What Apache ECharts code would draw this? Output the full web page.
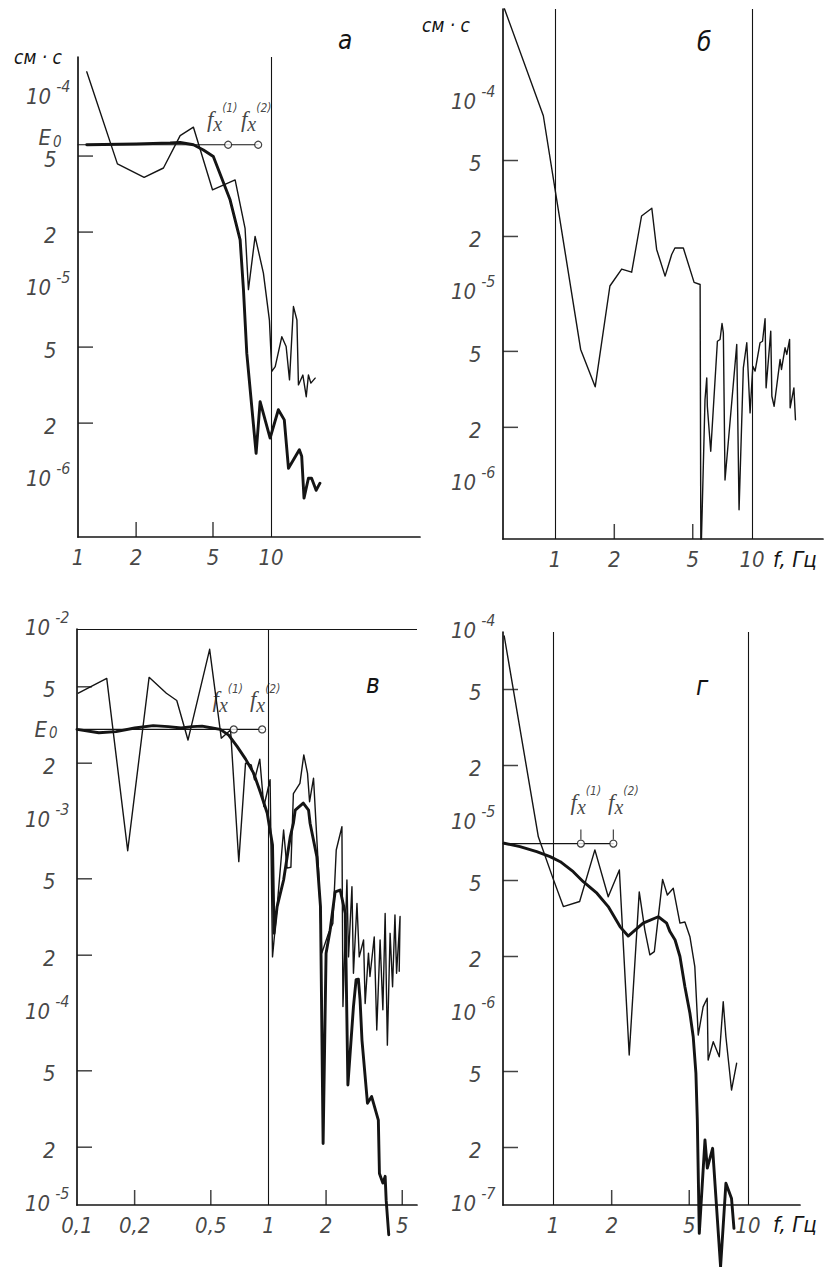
<!DOCTYPE html>
<html><head><meta charset="utf-8">
<script src="https://cdn.jsdelivr.net/npm/echarts@6.0.0/dist/echarts.min.js"></script>
<style>html,body{margin:0;padding:0;background:#fff}#c{width:835px;height:1267px}</style>
</head><body><div id="c"></div>
<script>
// ---------------- Panel а ----------------
const aThinF = [1.11, 1.60, 2.20, 2.77, 3.38, 3.96, 4.97, 6.51, 7.33, 7.63, 8.26, 9.12, 9.80, 10.08, 10.5, 11.36, 11.96, 12.45, 13.05, 13.6, 13.85, 14.6, 15.2, 15.6, 16.06, 16.9];
const aThinE = [1.38e-4, 4.55e-5, 3.87e-5, 4.33e-5, 6.4e-5, 7.08e-5, 3.33e-5, 3.75e-5, 2.09e-5, 1.0e-5, 1.90e-5, 1.22e-5, 6.9e-6, 3.73e-6, 3.95e-6, 5.67e-6, 5.04e-6, 3.37e-6, 8.15e-6, 6.93e-6, 3.17e-6, 3.57e-6, 2.75e-6, 3.57e-6, 3.24e-6, 3.44e-6];
const aThickF = [1.11, 2.0, 3.0, 3.38, 3.96, 4.46, 5.02, 6.13, 6.91, 7.19, 7.48, 8.36, 8.77, 9.88, 10.9, 11.7, 12.3, 14.0, 14.4, 14.8, 15.6, 16.2, 17.1, 17.9];
const aThickE = [5.73e-5, 5.78e-5, 5.85e-5, 5.89e-5, 5.73e-5, 5.38e-5, 4.97e-5, 2.95e-5, 1.82e-5, 1.0e-5, 4.65e-6, 1.39e-6, 2.59e-6, 1.67e-6, 2.35e-6, 2.08e-6, 1.16e-6, 1.45e-6, 1.34e-6, 8.1e-7, 1.03e-6, 1.03e-6, 8.9e-7, 9.7e-7];
const aE0 = 5.73e-5;
const aFx = [5.99, 8.57];
const aXRange = [1, 59];
const aYRange = [5.07e-7, 1.65e-4];
const aGridE = [1e-4, 1e-5, 1e-6];
const aGridF = [10];
const aXTicks = [2, 5];
const aXLabelValues = [1, 2, 5, 10];
const aXLabels = ['1', '2', '5', '10'];
const aPowValues = [1e-4, 1e-5, 1e-6];
const aPowLabels = ['-4', '-5', '-6'];
const aDigitValues = [5e-5, 2e-5, 5e-6, 2e-6];
const aDigitLabels = ['5', '2', '5', '2'];

// ---------------- Panel б ----------------
const bF = [0.553, 0.873, 1.02, 1.35, 1.60, 1.90, 2.18, 2.45, 2.75, 3.10, 3.28, 3.62, 3.91, 4.06, 4.48, 5.08, 5.45, 5.50, 5.77, 5.89, 5.93, 6.17, 6.67, 6.88, 7.04, 7.15, 7.29, 8.36, 8.59, 9.03, 9.40, 9.77, 10.09, 10.36, 10.98, 11.3, 11.64, 11.78, 12.44, 12.6, 12.94, 13.87, 14.1, 14.7, 15.0, 15.5, 15.6, 16.3, 16.6];
const bE = [3.14e-4, 8.58e-5, 3.13e-5, 5.12e-6, 3.26e-6, 1.10e-5, 1.35e-5, 1.30e-5, 2.56e-5, 2.81e-5, 1.71e-5, 1.24e-5, 1.61e-5, 1.74e-5, 1.74e-5, 1.15e-5, 1.12e-5, 4e-7, 2.79e-6, 3.63e-6, 2.58e-6, 1.50e-6, 5.65e-6, 5.77e-6, 7.0e-6, 6.25e-6, 1.06e-6, 5.43e-6, 7.4e-7, 4.10e-6, 5.55e-6, 2.38e-6, 4.18e-6, 3.94e-6, 5.55e-6, 5.65e-6, 7.41e-6, 3.22e-6, 6.38e-6, 2.91e-6, 2.58e-6, 4.53e-6, 4.02e-6, 5.22e-6, 4.82e-6, 5.77e-6, 2.53e-6, 3.22e-6, 2.19e-6];
const bXRange = [0.545, 22.9];
const bYRange = [5.2e-7, 3.11e-4];
const bGridE = [1e-4, 1e-5, 1e-6];
const bGridF = [1, 10];
const bXTicks = [2, 5];
const bXLabelValues = [1, 2, 5, 10];
const bXLabels = ['1', '2', '5', '10'];
const bPowValues = [1e-4, 1e-5, 1e-6];
const bPowLabels = ['-4', '-5', '-6'];
const bDigitValues = [5e-5, 2e-5, 5e-6, 2e-6];
const bDigitLabels = ['5', '2', '5', '2'];

// ---------------- Panel в ----------------
const vThinF = [0.1016, 0.143, 0.184, 0.238, 0.293, 0.332, 0.380, 0.493, 0.567, 0.634, 0.700, 0.759, 0.813, 0.846, 0.901, 0.946, 1.02, 1.05, 1.11, 1.20, 1.25, 1.31, 1.35, 1.46, 1.53, 1.60, 1.64, 1.72, 1.83, 1.90, 2.06, 2.17, 2.26, 2.42, 2.45, 2.57, 2.62, 2.73, 2.78, 2.90, 2.98, 3.14, 3.20, 3.33, 3.39, 3.57, 3.68, 3.83, 3.96, 4.07, 4.18, 4.32, 4.45, 4.58, 4.67, 4.87, 4.82];
const vThinE = [4.63e-3, 5.53e-3, 7.0e-4, 5.6e-3, 4.63e-3, 4.24e-3, 2.64e-3, 7.84e-3, 2.70e-3, 2.98e-3, 6.14e-4, 2.0e-3, 1.96e-3, 1.64e-3, 2.10e-3, 1.19e-3, 1.64e-3, 1.96e-4, 3.58e-4, 8.97e-4, 5.68e-4, 5.74e-4, 1.39e-3, 1.57e-3, 2.21e-3, 1.77e-3, 1.26e-3, 1.67e-3, 5.35e-4, 2.05e-4, 2.60e-4, 2.93e-4, 7.06e-4, 9.33e-4, 1.08e-4, 4.93e-4, 1.96e-4, 4.55e-4, 1.61e-4, 3.72e-4, 1.96e-4, 2.40e-4, 1.12e-4, 2.05e-4, 1.55e-4, 2.49e-4, 8.15e-5, 2.40e-4, 1.04e-4, 3.30e-4, 6.8e-5, 2.60e-4, 1.37e-4, 3.24e-4, 1.61e-4, 3.18e-4, 1.65e-4];
const vThickF = [0.1, 0.13, 0.16, 0.2, 0.25, 0.3, 0.35, 0.4, 0.45, 0.5, 0.56, 0.62, 0.687, 0.76, 0.838, 0.91, 0.985, 1.05, 1.07, 1.11, 1.20, 1.30, 1.35, 1.38, 1.52, 1.62, 1.65, 1.79, 1.87, 1.93, 2.00, 2.10, 2.23, 2.37, 2.52, 2.60, 2.78, 2.87, 2.95, 3.01, 3.08, 3.29, 3.46, 3.75, 3.80, 3.96, 4.07, 4.12, 4.25];
const vThickE = [3.0e-3, 2.88e-3, 2.92e-3, 3.05e-3, 3.14e-3, 3.1e-3, 3.05e-3, 3.1e-3, 3.12e-3, 3.06e-3, 3.0e-3, 2.8e-3, 2.44e-3, 2.1e-3, 1.77e-3, 1.4e-3, 1.10e-3, 7.5e-4, 2.6e-4, 3.58e-4, 4.93e-4, 8.28e-4, 9.73e-4, 1.14e-3, 1.24e-3, 1.14e-3, 9.73e-4, 6.52e-4, 3.58e-4, 2.09e-5, 2.05e-4, 2.70e-4, 4.28e-4, 4.37e-4, 3.30e-4, 4.22e-5, 1.08e-4, 1.49e-4, 1.5e-4, 1.17e-4, 7.23e-5, 3.39e-5, 3.67e-5, 2.77e-5, 1.46e-5, 1.30e-5, 1.41e-5, 1.06e-5, 7.0e-6];
const vE0 = 3.0e-3;
const vFx = [0.659, 0.927];
const vXRange = [0.1, 5.97];
const vYRange = [1e-5, 1e-2];
const vGridE = [1e-2, 1e-3, 1e-4];
const vGridF = [1];
const vXTicks = [0.2, 0.5, 2, 5];
const vXLabelValues = [0.1, 0.2, 0.5, 1, 2, 5];
const vXLabels = ['0,1', '0,2', '0,5', '1', '2', '5'];
const vPowValues = [1e-2, 1e-3, 1e-4, 1e-5];
const vPowLabels = ['-2', '-3', '-4', '-5'];
const vDigitValues = [5e-3, 2e-3, 5e-4, 2e-4, 5e-5, 2e-5];
const vDigitLabels = ['5', '2', '5', '2', '5', '2'];

// ---------------- Panel г ----------------
const gThinF = [0.562, 0.841, 1.00, 1.13, 1.37, 1.64, 1.92, 2.19, 2.46, 2.77, 2.96, 3.14, 3.31, 3.65, 3.86, 4.14, 4.48, 4.75, 5.04, 5.34, 5.56, 5.89, 6.18, 6.25, 6.64, 7.13, 7.47, 7.71, 8.24, 8.75];
const gThinE = [9.53e-5, 8.47e-6, 5.13e-6, 3.65e-6, 3.88e-6, 7.23e-6, 4.11e-6, 5.68e-6, 6.1e-7, 4.36e-6, 2.75e-6, 2.04e-6, 2.12e-6, 5.07e-6, 4.20e-6, 4.55e-6, 2.99e-6, 3.03e-6, 2.54e-6, 1.77e-6, 7.76e-7, 1.09e-6, 1.21e-6, 5.74e-7, 7.16e-7, 5.97e-7, 1.16e-6, 7.6e-7, 4.0e-7, 5.52e-7];
const gThickF = [0.562, 0.677, 0.825, 0.966, 1.09, 1.27, 1.43, 1.68, 1.92, 2.21, 2.43, 2.90, 3.47, 3.83, 3.98, 4.23, 4.48, 4.75, 5.04, 5.24, 5.41, 5.50, 5.63, 6.02, 6.19, 6.59, 7.24, 7.71, 8.24, 8.48];
const gThickE = [7.83e-6, 7.52e-6, 7.08e-6, 6.67e-6, 6.27e-6, 5.56e-6, 4.93e-6, 4.29e-6, 3.65e-6, 2.86e-6, 2.56e-6, 2.99e-6, 3.23e-6, 2.99e-6, 2.70e-6, 2.44e-6, 2.0e-6, 1.39e-6, 1.01e-6, 7.6e-7, 4.89e-7, 2.79e-7, 7.1e-8, 2.19e-7, 1.56e-7, 1.98e-7, 4.75e-8, 1.30e-7, 1.08e-7, 7.55e-8];
const gE0 = 7.8e-6;
const gFx = [1.39, 2.04];
const gXRange = [0.554, 18.5];
const gYRange = [1e-7, 1e-4];
const gGridE = [1e-4, 1e-5, 1e-6];
const gGridF = [1, 10];
const gXTicks = [2, 5];
const gXLabelValues = [1, 2, 5, 10];
const gXLabels = ['1', '2', '5', '10'];
const gPowValues = [1e-4, 1e-5, 1e-6, 1e-7];
const gPowLabels = ['-4', '-5', '-6', '-7'];
const gDigitValues = [5e-5, 2e-5, 5e-6, 2e-6, 5e-7, 2e-7];
const gDigitLabels = ['5', '2', '5', '2', '5', '2'];

// ---------------- styling / building ----------------
const FONT = '"Liberation Sans Narrow","DejaVu Sans Condensed","DejaVu Sans",sans-serif';
const SERIF = '"Liberation Serif","DejaVu Serif",serif';
const INK = '#141414';
const rich = {
  b: {fontFamily: FONT, fontStyle: 'italic', fontSize: 22, color: INK},
  s: {fontFamily: FONT, fontStyle: 'italic', fontSize: 16, color: INK, padding: [0, 0, 20, 5]},
  u: {fontFamily: FONT, fontStyle: 'italic', fontSize: 15, color: INK, padding: [8, 0, 0, 2]},
  f: {fontFamily: SERIF, fontStyle: 'italic', fontSize: 23, color: INK},
  x: {fontFamily: SERIF, fontStyle: 'italic', fontSize: 20, color: INK, padding: [10, 0, 0, 0]},
  p: {fontFamily: FONT, fontStyle: 'italic', fontSize: 12, color: INK, padding: [0, 0, 22, 0]}
};

const grids = [], xAxes = [], yAxes = [], series = [];
const zip = (f, e) => f.map((x, i) => [x, e[i]]);

function lineSeries(gi, f, e, width, clip, extra) {
  return Object.assign({
    type: 'line', xAxisIndex: gi, yAxisIndex: gi, data: zip(f, e), showSymbol: false, symbol: 'none',
    clip: clip, animation: false, silent: true, z: 3,
    lineStyle: {color: INK, width: width, join: 'round', cap: 'round'}
  }, extra || {});
}
function labelSeries(gi, points, texts, position, distance, extraLabel) {
  return {
    type: 'scatter', xAxisIndex: gi, yAxisIndex: gi, silent: true, clip: false, animation: false, z: 6,
    symbolSize: 1, itemStyle: {color: 'rgba(0,0,0,0)'},
    data: points.map((p, i) => ({value: p, name: texts[i]})),
    label: Object.assign({show: true, position: position, distance: distance, formatter: d => d.name, rich: rich}, extraLabel || {})
  };
}
function tickSeries(gi, points, vertical) {
  return {
    type: 'scatter', xAxisIndex: gi, yAxisIndex: gi, silent: true, clip: false, animation: false, z: 4,
    symbol: 'rect', symbolSize: vertical ? [1.5, 15] : [15, 1.5], symbolOffset: vertical ? [0, -7.5] : [7.5, 0],
    itemStyle: {color: INK}, data: points
  };
}

function addPanel(p) {
  const gi = grids.length;
  grids.push({left: p.box[0], top: p.box[1], width: p.box[2], height: p.box[3], containLabel: false});
  xAxes.push(Object.assign({
    type: 'log', logBase: 10, gridIndex: gi, min: p.xr[0], max: p.xr[1],
    axisLine: {show: true, onZero: false, lineStyle: {color: INK, width: 1.7}},
    axisTick: {show: false}, axisLabel: {show: false}, splitLine: {show: false}, minorTick: {show: false}
  }, p.xAxisExtra || {}));
  yAxes.push(Object.assign({
    type: 'log', logBase: 10, gridIndex: gi, min: p.yr[0], max: p.yr[1],
    axisLine: {show: true, onZero: false, lineStyle: {color: INK, width: 1.7}},
    axisTick: {show: false}, axisLabel: {show: false}, splitLine: {show: false}, minorTick: {show: false}
  }, p.yAxisExtra || {}));
  // thin curve carries the reference grid lines
  series.push(lineSeries(gi, p.thin[0], p.thin[1], 1.4, true, {
    markLine: {
      silent: true, animation: false, symbol: ['none', 'none'], label: {show: false},
      lineStyle: {color: INK, width: 1.1, type: 'solid'}, emphasis: {disabled: true},
      data: p.gridE.map(v => ({yAxis: v})).concat(p.gridF.map(v => ({xAxis: v})))
    }
  }));
  if (p.thick) series.push(lineSeries(gi, p.thick[0], p.thick[1], 2.9, p.thickClip, {z: 4}));
  // ticks
  series.push(tickSeries(gi, p.xTicks.map(v => [v, p.yr[0]]), true));
  series.push(tickSeries(gi, p.yTicks.map(v => [p.xr[0], v]), false));
  // axis labels
  series.push(labelSeries(gi, p.xLabelValues.map(v => [v, p.yr[0]]), p.xLabels.map(t => '{b|' + t + '}'), 'bottom', 9));
  series.push(labelSeries(gi, p.powValues.map(v => [p.xr[0], v]), p.powLabels.map(t => '{b|10}{s|' + t + '}'), 'left', 7, {offset: [0, -2]}));
  series.push(labelSeries(gi, p.digitValues.map(v => [p.xr[0], v]), p.digitLabels.map(t => '{b|' + t + '}'), 'left', 21, {offset: [0, 3]}));
  // E0 level with f_x markers
  if (p.e0 != null) {
    series.push(lineSeries(gi, [p.xr[0], p.fx[1]], [p.e0, p.e0], 1.1, false, {z: 5}));
    series.push({
      type: 'scatter', xAxisIndex: gi, yAxisIndex: gi, silent: true, clip: false, animation: false, z: 7,
      symbol: 'circle', symbolSize: 7, itemStyle: {color: '#fff', borderColor: INK, borderWidth: 1.2},
      data: p.fx.map(v => [v, p.e0])
    });
    if (p.fxStems) series.push({
      type: 'scatter', xAxisIndex: gi, yAxisIndex: gi, silent: true, clip: false, animation: false, z: 6,
      symbol: 'rect', symbolSize: [1.2, 10], symbolOffset: [0, -9], itemStyle: {color: INK},
      data: p.fx.map(v => [v, p.e0])
    });
    const fxPts = p.fx.map(v => [v, p.e0]);
    fxPts.forEach((pt, i) => {
      series.push(labelSeries(gi, [pt], ['{f|f}{x|x}{p|(' + (i + 1) + ')}'], 'top', p.fxDist, {offset: [p.fxOff[i], 0]}));
    });
    if (p.e0Label) series.push(labelSeries(gi, [[p.xr[0], p.e0]], ['{b|E}{u|0}'], 'left', p.e0Dist, {offset: [0, p.e0Shift]}));
  }
}

addPanel({box: [78, 57, 342, 480], xr: aXRange, yr: aYRange, thin: [aThinF, aThinE], thick: [aThickF, aThickE], thickClip: true,
  gridE: aGridE, gridF: aGridF, xTicks: aXTicks, yTicks: aDigitValues, xLabelValues: aXLabelValues, xLabels: aXLabels,
  powValues: aPowValues, powLabels: aPowLabels, digitValues: aDigitValues, digitLabels: aDigitLabels,
  e0: aE0, fx: aFx, fxDist: 8, fxOff: [-6, -2], e0Label: true, e0Dist: 16, e0Shift: -7,
  yAxisExtra: {name: 'см · с', nameLocation: 'end', nameGap: 0,
    nameTextStyle: {fontFamily: FONT, fontStyle: 'italic', fontSize: 19, color: INK, align: 'right', verticalAlign: 'middle', padding: [0, 16, 0, 0]}}});

addPanel({box: [503, 9, 320, 530], xr: bXRange, yr: bYRange, thin: [bF, bE], thick: null,
  gridE: bGridE, gridF: bGridF, xTicks: bXTicks, yTicks: bDigitValues, xLabelValues: bXLabelValues, xLabels: bXLabels,
  powValues: bPowValues, powLabels: bPowLabels, digitValues: bDigitValues, digitLabels: bDigitLabels, e0: null,
  yAxisExtra: {name: 'см · с', nameLocation: 'end', nameGap: -16,
    nameTextStyle: {fontFamily: FONT, fontStyle: 'italic', fontSize: 19, color: INK, align: 'right', verticalAlign: 'middle', padding: [0, 33, 0, 0]}},
  xAxisExtra: {name: 'f, Гц', nameLocation: 'end', nameGap: -50,
    nameTextStyle: {fontFamily: FONT, fontStyle: 'italic', fontSize: 22, color: INK, align: 'left', verticalAlign: 'top', padding: [9, 0, 0, 0]}}});

addPanel({box: [77, 629, 340, 576], xr: vXRange, yr: vYRange, thin: [vThinF, vThinE], thick: [vThickF, vThickE], thickClip: false,
  gridE: vGridE, gridF: vGridF, xTicks: vXTicks, yTicks: vDigitValues, xLabelValues: vXLabelValues, xLabels: vXLabels,
  powValues: vPowValues, powLabels: vPowLabels, digitValues: vDigitValues, digitLabels: vDigitLabels,
  e0: vE0, fx: vFx, fxDist: 12, fxOff: [-6, 3], e0Label: true, e0Dist: 19, e0Shift: 0});

addPanel({box: [503, 632, 297, 573], xr: gXRange, yr: gYRange, thin: [gThinF, gThinE], thick: [gThickF, gThickE], thickClip: false,
  gridE: gGridE, gridF: gGridF, xTicks: gXTicks, yTicks: gDigitValues, xLabelValues: gXLabelValues, xLabels: gXLabels,
  powValues: gPowValues, powLabels: gPowLabels, digitValues: gDigitValues, digitLabels: gDigitLabels,
  e0: gE0, fx: gFx, fxDist: 24, fxOff: [5, 10], fxStems: true, e0Label: false,
  xAxisExtra: {name: 'f, Гц', nameLocation: 'end', nameGap: -27,
    nameTextStyle: {fontFamily: FONT, fontStyle: 'italic', fontSize: 22, color: INK, align: 'left', verticalAlign: 'top', padding: [8, 0, 0, 0]}}});

const titleStyle = {fontFamily: FONT, fontStyle: 'italic', fontWeight: 'normal', fontSize: 26, color: INK};
const chart = echarts.init(document.getElementById('c'), null, {renderer: 'svg', width: 835, height: 1267});
chart.setOption({
  backgroundColor: '#ffffff',
  animation: false,
  title: [
    {text: 'а', left: 333, top: 22, textStyle: titleStyle},
    {text: 'б', left: 692, top: 24, textStyle: titleStyle},
    {text: 'в', left: 361, top: 666, textStyle: titleStyle},
    {text: 'г', left: 691, top: 668, textStyle: titleStyle}
  ],
  grid: grids, xAxis: xAxes, yAxis: yAxes, series: series
});
</script>
</body></html>
